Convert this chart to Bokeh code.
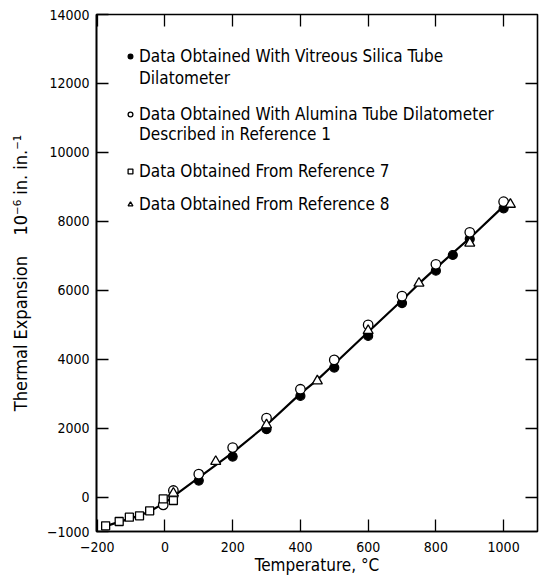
from bokeh.plotting import figure
from bokeh.models import LinearAxis, FixedTicker, Legend, LegendItem
from bokeh.embed import file_html
from bokeh.resources import INLINE

# Vitreous silica tube dilatometer (filled circles)
silica_t = [25, 100, 200, 300, 400, 500, 600, 700, 800, 850, 900, 1000]
silica_v = [30, 478, 1175, 1968, 2934, 3756, 4674, 5628, 6568, 7022, 7490, 8376]

# Alumina tube dilatometer, Reference 1 (open circles)
alumina_t = [-5, 25, 100, 200, 300, 400, 500, 600, 700, 800, 900, 1000]
alumina_v = [-226, 190, 664, 1435, 2288, 3128, 3978, 4993, 5828, 6752, 7680, 8568]

# Reference 7 (open squares)
ref7_t = [-175, -135, -105, -75, -45, -5, 25]
ref7_v = [-835, -710, -583, -545, -400, -55, -100]

# Reference 8 (open triangles)
ref8_t = [25, 150, 300, 450, 600, 750, 900, 1020]
ref8_v = [110, 1030, 2093, 3369, 4828, 6201, 7362, 8492]

# faired curve
curve_t = [-177, -135, -100, -50, 0, 25, 50, 100, 200, 300, 400, 450, 500, 600, 700, 750, 800, 850, 900, 1000, 1023]
curve_v = [-850, -720, -620, -440, -170, 20, 200, 560, 1290, 2090, 3000, 3400, 3860, 4790, 5710, 6190, 6640, 7080, 7510, 8440, 8540]

x_ticks = [-200, 0, 200, 400, 600, 800, 1000]
y_ticks = [-1000, 0, 2000, 4000, 6000, 8000, 10000, 12000, 14000]

legend_first = ["Data Obtained With Vitreous Silica Tube",
                "Data Obtained With Alumina Tube Dilatometer"]
legend_second = ["Dilatometer", "Described in Reference 1"]
legend_single = ["Data Obtained From Reference 7", "Data Obtained From Reference 8"]

FONT = "DejaVu Sans Condensed, Roboto"
NB = "\u00a0"

p = figure(width=540, height=580, x_range=(-202, 1100), y_range=(-1000, 14000),
           output_backend="svg", toolbar_location=None,
           min_border_left=96, min_border_right=3, min_border_top=14, min_border_bottom=49)
p.grid.visible = False
p.outline_line_color = "black"
p.outline_line_width = 1.6
p.background_fill_color = "white"
p.border_fill_color = "white"

for ax in (p.xaxis[0], p.yaxis[0]):
    ax.axis_line_color = "black"
    ax.axis_line_width = 1.6
    ax.major_tick_in = 12
    ax.major_tick_out = 0
    ax.minor_tick_in = 0
    ax.minor_tick_out = 0
    ax.major_tick_line_width = 1.3
    ax.major_label_text_font = FONT
    ax.major_label_text_font_size = "14px"
    ax.major_label_text_color = "black"
    ax.axis_label_text_font = FONT
    ax.axis_label_text_font_style = "normal"
    ax.axis_label_text_color = "black"

p.xaxis[0].axis_label_text_font_size = "17px"
p.yaxis[0].axis_label_text_font_size = "18px"
p.xaxis[0].ticker = FixedTicker(ticks=x_ticks)
p.yaxis[0].ticker = FixedTicker(ticks=y_ticks)
p.xaxis[0].major_label_overrides = {-200: "\u2212200"}
p.yaxis[0].major_label_overrides = {-1000: "\u22121000"}
p.xaxis[0].axis_label = "Temperature, \u00b0C"
p.yaxis[0].axis_label = "Thermal Expansion" + NB * 4 + "10\u207b\u2076 in. in.\u207b\u00b9"
p.xaxis[0].major_label_standoff = 10
p.yaxis[0].major_label_standoff = 7
p.xaxis[0].axis_label_standoff = 0
p.yaxis[0].axis_label_standoff = 13

top = LinearAxis(ticker=FixedTicker(ticks=x_ticks))
right = LinearAxis(ticker=FixedTicker(ticks=y_ticks[1:-1]))
for ax, ticks in ((top, x_ticks), (right, y_ticks[1:-1])):
    ax.axis_line_color = None
    ax.major_tick_in = 12
    ax.major_tick_out = 0
    ax.minor_tick_in = 0
    ax.minor_tick_out = 0
    ax.major_tick_line_width = 1.3
    ax.major_label_overrides = {t: "" for t in ticks}
    ax.major_label_text_font_size = "1px"
    ax.major_label_standoff = 0
p.add_layout(top, "above")
p.add_layout(right, "right")

p.line(curve_t, curve_v, line_color="black", line_width=2.2)

r_sil = p.scatter(silica_t, silica_v, marker="circle", size=9,
                  fill_color="black", line_color="black", line_width=1.2)
r_alu = p.scatter(alumina_t, alumina_v, marker="circle", size=9.5,
                  fill_color="white", line_color="black", line_width=1.3)
r_r7 = p.scatter(ref7_t, ref7_v, marker="square", size=8,
                 fill_color="white", line_color="black", line_width=1.3)
r_r8 = p.scatter(ref8_t, ref8_v, marker="triangle", size=10,
                 fill_color="white", line_color="black", line_width=1.3)
r_none = p.scatter([], [], marker="circle", size=1, fill_alpha=0, line_alpha=0)


def make_legend(items, spacing, loc):
    lg = Legend(items=items, location=loc)
    lg.border_line_color = None
    lg.background_fill_alpha = 0
    lg.label_text_font = FONT
    lg.label_text_font_size = "17px"
    lg.label_text_color = "black"
    lg.glyph_width = 12
    lg.glyph_height = 12
    lg.label_height = 21
    lg.label_standoff = 3
    lg.margin = 0
    lg.padding = 0
    lg.spacing = spacing
    return lg


lg1 = make_legend([LegendItem(label=legend_first[0], renderers=[r_sil]),
                   LegendItem(label=legend_first[1], renderers=[r_alu])], 37, (28, 407))
lg2 = make_legend([LegendItem(label=legend_second[0], renderers=[r_none]),
                   LegendItem(label=legend_second[1], renderers=[r_none])], 35, (28, 387))
lg3 = make_legend([LegendItem(label=legend_single[0], renderers=[r_r7]),
                   LegendItem(label=legend_single[1], renderers=[r_r8])], 12, (28, 317))
for lg in (lg1, lg2, lg3):
    p.add_layout(lg)

open("out.html", "w").write(file_html(p, INLINE))
